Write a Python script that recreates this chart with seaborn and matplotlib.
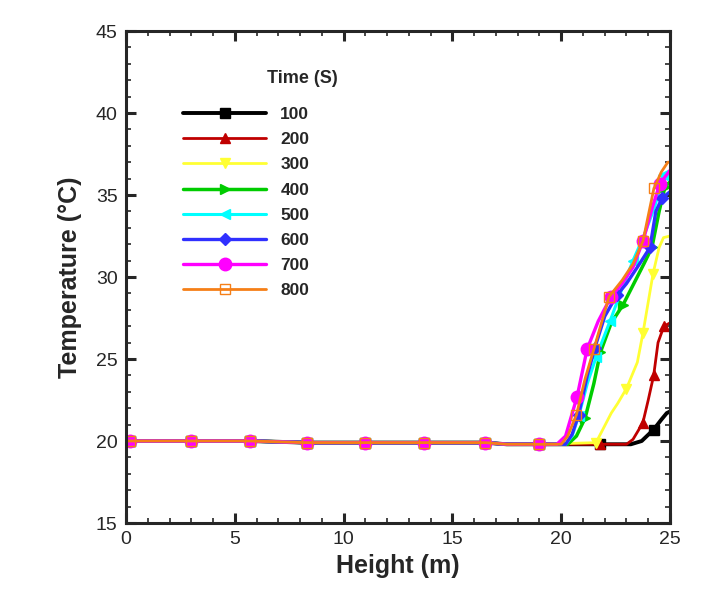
import numpy as np
import matplotlib
matplotlib.use("Agg")
import matplotlib.pyplot as plt
import pandas as pd
import seaborn as sns
from matplotlib.ticker import MultipleLocator

# shared flat part near the floor (height m, temperature C)
flat_h = [0.0, 0.2, 3.0, 5.7, 8.3, 11.0, 13.7, 16.5, 17.5, 19.0]
flat_t = [20.0, 20.0, 20.0, 20.0, 19.9, 19.9, 19.9, 19.9, 19.8, 19.8]

times = ["100", "200", "300", "400", "500", "600", "700", "800"]

h100 = [21.8, 23.2, 23.7, 24.25, 24.6, 24.85, 25.0]
t100 = [19.8, 19.8, 20.0, 20.7, 21.3, 21.7, 21.8]
h200 = [21.8, 23.0, 23.3, 23.75, 24.0, 24.25, 24.45, 24.72, 25.0]
t200 = [19.8, 19.8, 20.1, 21.1, 22.5, 24.0, 26.0, 27.0, 27.2]
h300 = [21.6, 22.3, 22.6, 23.0, 23.5, 23.76, 24.22, 24.5, 24.7, 25.0]
t300 = [19.9, 21.7, 22.3, 23.2, 24.8, 26.6, 30.2, 31.8, 32.4, 32.5]
h400 = [20.3, 20.7, 21.1, 21.5, 21.8, 22.3, 22.84, 23.3, 23.8, 24.17, 24.5, 24.77, 25.0]
t400 = [19.8, 20.3, 21.4, 23.5, 25.4, 27.2, 28.3, 29.5, 30.8, 31.8, 34.0, 35.5, 35.8]
h500 = [20.2, 20.5, 20.8, 21.2, 21.6, 22.24, 22.8, 23.3, 23.8, 24.3, 24.7, 25.0]
t500 = [19.8, 20.3, 21.5, 23.5, 25.1, 27.3, 29.3, 31.0, 32.5, 34.3, 36.2, 36.3]
h600 = [20.2, 20.5, 20.8, 21.2, 21.55, 22.0, 22.56, 23.0, 23.6, 24.08, 24.35, 24.63, 25.0]
t600 = [19.8, 20.4, 21.6, 24.0, 25.7, 27.6, 28.9, 29.6, 30.8, 31.8, 34.0, 34.8, 35.2]
h700 = [19.8, 20.2, 20.73, 21.19, 21.7, 22.29, 22.8, 23.3, 23.76, 24.2, 24.54, 25.0]
t700 = [19.8, 20.3, 22.7, 25.6, 27.3, 28.8, 29.6, 30.6, 32.2, 34.3, 35.7, 36.5]
h800 = [20.0, 20.3, 20.7, 21.1, 21.5, 22.2, 22.8, 23.3, 23.76, 24.26, 24.6, 24.9, 25.0]
t800 = [19.8, 20.3, 21.6, 23.8, 25.6, 28.8, 29.8, 30.8, 32.2, 35.4, 36.4, 37.0, 37.0]

heights = [h100, h200, h300, h400, h500, h600, h700, h800]
temps = [t100, t200, t300, t400, t500, t600, t700, t800]

# where the symbols sit on each curve
flat_marks = [0.2, 3.0, 5.7, 8.3, 11.0, 13.7, 16.5, 19.0]
tail_marks = [
    [21.8, 24.25],
    [21.8, 23.75, 24.25, 24.72],
    [21.6, 23.0, 23.76, 24.22],
    [21.1, 21.8, 22.84, 24.17, 24.77],
    [20.8, 21.6, 22.24, 23.3, 24.7],
    [20.8, 21.55, 22.56, 24.08, 24.63],
    [20.73, 21.19, 22.29, 23.76, 24.54],
    [20.7, 21.5, 22.2, 23.76, 24.26],
]

colors = ["#000000", "#c00000", "#ffff33", "#00cc00", "#00ffff", "#3030ff", "#ff00ff", "#f57f17"]
markers = ["s", "^", "v", ">", "<", "D", "o", "s"]
msizes = [6.5, 7.5, 7.5, 7.5, 7.5, 6.5, 9.0, 7]
widths = [2.8, 2.0, 2.0, 2.5, 2.2, 2.4, 2.4, 2.0]

sns.set_style("ticks")
plt.rcParams["font.family"] = ["Liberation Sans", "DejaVu Sans"]

fig = plt.figure(figsize=(7.09, 5.95), dpi=100)
ax = fig.add_axes([126 / 709, 1 - 523 / 595, 544 / 709, 492 / 595])

for i, lab in enumerate(times):
    hx = flat_h + heights[i]
    ty = flat_t + temps[i]
    marks = flat_marks + tail_marks[i]
    idx = [hx.index(m) for m in marks]
    face = "none" if i == 7 else colors[i]
    sns.lineplot(x=hx, y=ty, ax=ax, sort=False, estimator=None,
                 color=colors[i], lw=widths[i], marker=markers[i],
                 markevery=idx, ms=msizes[i], mec=colors[i], mfc=face,
                 mew=1.0, label=lab)

ax.set_xlim(0, 25)
ax.set_ylim(15, 45)
ax.xaxis.set_major_locator(MultipleLocator(5))
ax.xaxis.set_minor_locator(MultipleLocator(1))
ax.yaxis.set_major_locator(MultipleLocator(5))
ax.yaxis.set_minor_locator(MultipleLocator(1))
ax.tick_params(which="major", direction="in", length=7, width=2.2,
               top=True, right=True, labelsize=14, pad=6)
ax.tick_params(which="minor", direction="in", length=3.5, width=1.2,
               top=True, right=True)
for sp in ax.spines.values():
    sp.set_linewidth(2.2)
    sp.set_visible(True)

ax.set_xlabel("Height (m)", fontsize=18, fontweight="bold", labelpad=4)
ax.set_ylabel("Temperature (°C)", fontsize=18, fontweight="bold", labelpad=10)

leg = ax.legend(loc="upper left", bbox_to_anchor=(0.105, 0.846), frameon=False,
                prop={"weight": "bold", "size": 12.5}, handlelength=4.8,
                labelspacing=0.58, borderpad=0, borderaxespad=0, handletextpad=0.8)
ax.text(0.26, 0.903, "Time (S)", transform=ax.transAxes, fontsize=13,
        fontweight="bold", va="center", ha="left")

fig.savefig("out.png", dpi=100)
